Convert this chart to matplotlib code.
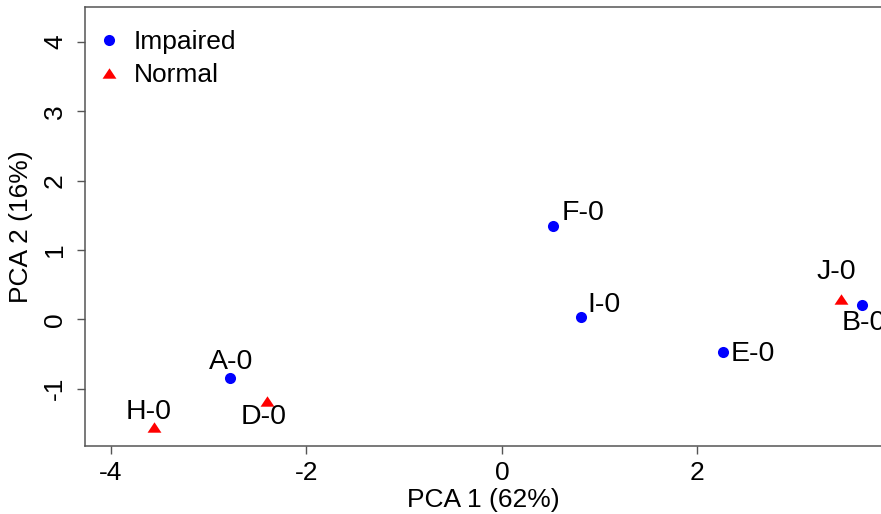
import matplotlib
matplotlib.use('Agg')
import matplotlib.pyplot as plt
from matplotlib.path import Path

plt.rcParams['font.family'] = ['Liberation Sans', 'DejaVu Sans']

# PCA scores per sample
samples = ['A-0', 'B-0', 'D-0', 'E-0', 'F-0', 'H-0', 'I-0', 'J-0']
pc1 = [-2.78, 3.685, -2.40, 2.268, 0.528, -3.56, 0.809, 3.466]
pc2 = [-0.85, 0.206, -1.175, -0.47, 1.35, -1.55, 0.03, 0.289]
group = ['Impaired', 'Impaired', 'Normal', 'Impaired', 'Impaired', 'Normal', 'Impaired', 'Normal']
pct_pc1 = 62
pct_pc2 = 16

# label offsets in pixels (dx, dy, ha)
label_pos = {
    'A-0': (1, 16, 'center'),
    'B-0': (-20, -18, 'left'),
    'D-0': (-4, -16, 'center'),
    'E-0': (7, -2, 'left'),
    'F-0': (8, 13, 'left'),
    'H-0': (-5, 15, 'center'),
    'I-0': (6, 12, 'left'),
    'J-0': (-4, 27, 'center'),
}

tri = Path([(-1, -0.75), (1, -0.75), (0, 0.75), (-1, -0.75)],
           [Path.MOVETO, Path.LINETO, Path.LINETO, Path.CLOSEPOLY])
styles = {
    'Impaired': dict(marker='o', color='#0000FF', ms=8.0),
    'Normal': dict(marker=tri, color='#FF0000', ms=10.0),
}

fig = plt.figure(figsize=(8.81, 5.14), dpi=100)
ax = fig.add_axes([85/881, 1 - 445.7/514, 796/881, (445.7 - 6.7)/514])

for g in ['Impaired', 'Normal']:
    xs = [x for x, gg in zip(pc1, group) if gg == g]
    ys = [y for y, gg in zip(pc2, group) if gg == g]
    st = styles[g]
    ax.plot(xs, ys, linestyle='none', marker=st['marker'], color=st['color'],
            ms=st['ms'], mew=0, label=g, clip_on=False)

for name, x, y in zip(samples, pc1, pc2):
    dx, dy, ha = label_pos[name]
    ax.annotate(name, (x, y), xytext=(dx, dy), textcoords='offset pixels',
                ha=ha, va='center', fontsize=20.5, color='black')

ax.set_xlim(-4.265, 3.88)
ax.set_ylim(-1.824, 4.51)
ax.set_xticks([-4, -2, 0, 2])
ax.set_yticks([-1, 0, 1, 2, 3, 4])
ax.set_xticklabels(['-4', '-2', '0', '2'])
ax.set_yticklabels(['-1', '0', '1', '2', '3', '4'], rotation=90, va='center')
ax.tick_params(length=6, width=1, color='#555555', labelsize=19)
ax.tick_params(axis='x', pad=5)
ax.tick_params(axis='y', pad=7)
for s in ['left', 'top', 'bottom']:
    ax.spines[s].set_color('#555555')
    ax.spines[s].set_linewidth(1.1)
ax.spines['right'].set_visible(False)

ax.set_xlabel(f'PCA 1 ({pct_pc1}%)', fontsize=19, labelpad=2)
ax.set_ylabel(f'PCA 2 ({pct_pc2}%)', fontsize=19, labelpad=7)

ax.legend(loc='upper left', bbox_to_anchor=(0.0136, 0.946), frameon=False,
          fontsize=19, handletextpad=0.45, borderaxespad=0, borderpad=0,
          labelspacing=0.34, handlelength=1.0)

fig.savefig('out.png', dpi=100)
